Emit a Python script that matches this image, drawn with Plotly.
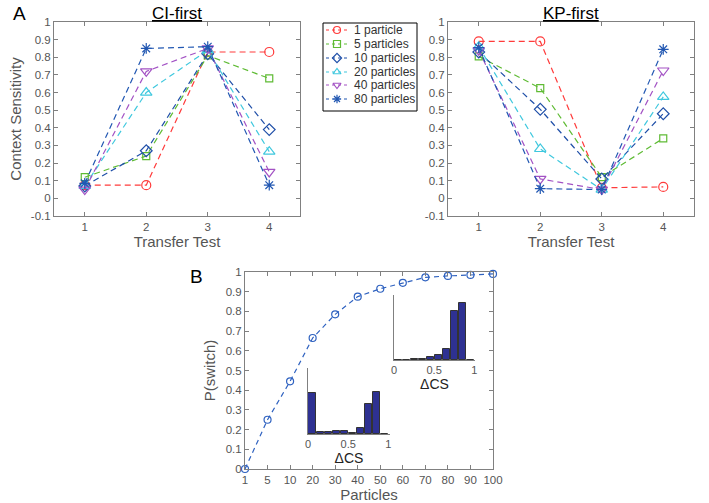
import plotly.graph_objects as go

# ---------------- data ----------------
transfer_tests = [1, 2, 3, 4]
series_names = ["1 particle", "5 particles", "10 particles", "20 particles", "40 particles", "80 particles"]

ci_first = {
    "1 particle":   [0.075, 0.075, 0.83, 0.83],
    "5 particles":  [0.12, 0.24, 0.81, 0.68],
    "10 particles": [0.07, 0.27, 0.82, 0.39],
    "20 particles": [0.07, 0.60, 0.84, 0.265],
    "40 particles": [0.05, 0.72, 0.85, 0.15],
    "80 particles": [0.085, 0.85, 0.86, 0.075],
}
kp_first = {
    "1 particle":   [0.89, 0.89, 0.06, 0.065],
    "5 particles":  [0.805, 0.625, 0.12, 0.34],
    "10 particles": [0.83, 0.505, 0.11, 0.48],
    "20 particles": [0.86, 0.28, 0.05, 0.575],
    "40 particles": [0.84, 0.11, 0.05, 0.725],
    "80 particles": [0.855, 0.055, 0.05, 0.845],
}

particle_labels = ["1", "5", "10", "20", "30", "40", "50", "60", "70", "80", "90", "100"]
p_switch = [0.0, 0.25, 0.445, 0.665, 0.785, 0.875, 0.915, 0.945, 0.973, 0.98, 0.985, 0.99]

bin_centers = [0.05, 0.15, 0.25, 0.35, 0.45, 0.55, 0.65, 0.75, 0.85, 0.95]
hist_upper = [0.003, 0.005, 0.01, 0.02, 0.04, 0.077, 0.165, 0.76, 0.87, 0.0]
hist_lower = [0.62, 0.03, 0.03, 0.045, 0.05, 0.02, 0.087, 0.46, 0.64, 0.0]

# ---------------- styles ----------------
colors = {
    "1 particle": "#ff3b3b",
    "5 particles": "#5fbb34",
    "10 particles": "#1f4fa8",
    "20 particles": "#3fc8de",
    "40 particles": "#a352c4",
    "80 particles": "#2157b2",
}
symbols = {
    "1 particle": "circle-open",
    "5 particles": "square-open",
    "10 particles": "diamond-open",
    "20 particles": "triangle-up-open",
    "40 particles": "triangle-down-open",
    "80 particles": "asterisk-open",
}
sizes = {
    "1 particle": 9, "5 particles": 7, "10 particles": 9,
    "20 particles": 10, "40 particles": 10, "80 particles": 9,
}

FONT = "Liberation Sans, Arial, sans-serif"
AX = "#808080"
TICKF = dict(family=FONT, size=11.5, color="#555555")
DASH = "6px,4px"

W, H = 709, 503
def xd(a, b):
    return [a / W, b / W]
def yd(top, bot):
    return [1 - bot / H, 1 - top / H]

fig = go.Figure()

for name in series_names:
    fig.add_trace(go.Scatter(
        x=transfer_tests, y=ci_first[name], mode="lines+markers", name=name,
        line=dict(color=colors[name], dash=DASH, width=1.2),
        marker=dict(symbol=symbols[name], size=sizes[name], color=colors[name],
                    line=dict(width=1.2, color=colors[name])),
        xaxis="x", yaxis="y", cliponaxis=False, showlegend=False))
for name in series_names:
    fig.add_trace(go.Scatter(
        x=transfer_tests, y=kp_first[name], mode="lines+markers", name=name,
        line=dict(color=colors[name], dash=DASH, width=1.2),
        marker=dict(symbol=symbols[name], size=sizes[name], color=colors[name],
                    line=dict(width=1.2, color=colors[name])),
        xaxis="x2", yaxis="y2", cliponaxis=False, showlegend=False))

fig.add_trace(go.Scatter(
    x=list(range(len(particle_labels))), y=p_switch, mode="lines+markers",
    line=dict(color="#2f62c0", dash="5px,4px", width=1.2),
    marker=dict(symbol="circle-open", size=7, color="#2f62c0", line=dict(width=1.2)),
    xaxis="x3", yaxis="y3", cliponaxis=False, showlegend=False))

fig.add_trace(go.Bar(x=bin_centers, y=hist_upper, width=0.088,
                     marker=dict(color="#2e3192", line=dict(color="#333333", width=1)),
                     xaxis="x4", yaxis="y4", showlegend=False))
fig.add_trace(go.Bar(x=bin_centers, y=hist_lower, width=0.088,
                     marker=dict(color="#2e3192", line=dict(color="#333333", width=1)),
                     xaxis="x5", yaxis="y5", showlegend=False))

# ---- hand-drawn legend (compact, like the original) on a hidden pixel-scaled axis ----
LEG_L, LEG_R, LEG_T, LEG_B = 323, 417, 23, 111
leg_rows = [30, 44, 58, 72, 85, 99]
annotations = []
for name, ry in zip(series_names, leg_rows):
    fig.add_trace(go.Scatter(x=[326, 348], y=[ry, ry], mode="lines",
                             line=dict(color=colors[name], dash="3px,3px", width=1.2),
                             xaxis="x6", yaxis="y6", showlegend=False, hoverinfo="skip"))
    fig.add_trace(go.Scatter(x=[337], y=[ry], mode="markers",
                             marker=dict(symbol=symbols[name], size=7, color=colors[name],
                                         line=dict(width=1.2, color=colors[name])),
                             xaxis="x6", yaxis="y6", showlegend=False, hoverinfo="skip"))
    annotations.append(dict(text=name, x=352, y=ry, xref="x6", yref="y6", xanchor="left",
                            yanchor="middle", showarrow=False,
                            font=dict(family=FONT, size=12, color="#333333")))

def main_axis(domain, **kw):
    d = dict(domain=domain, showline=True, linecolor=AX, linewidth=1, mirror="ticks",
             ticks="inside", ticklen=4, tickcolor=AX, showgrid=False, zeroline=False,
             tickfont=TICKF, automargin=False)
    d.update(kw)
    return d

yticks = [-0.1, 0, 0.1, 0.2, 0.3, 0.4, 0.5, 0.6, 0.7, 0.8, 0.9, 1]
ytext = ["-0.1", "0", "0.1", "0.2", "0.3", "0.4", "0.5", "0.6", "0.7", "0.8", "0.9", "1"]
title_font = dict(family=FONT, size=15, color="#555555")
inset_tick = dict(family=FONT, size=11, color="#555555")
inset_title = dict(family=FONT, size=14, color="#222222")

annotations += [
    dict(text="<u>CI-first</u>", x=(54 + 300) / 2 / W, y=1 - 2 / H, xref="paper", yref="paper",
         xanchor="center", yanchor="top", showarrow=False, font=dict(family=FONT, size=17, color="black")),
    dict(text="<u>KP-first</u>", x=(448 + 694) / 2 / W, y=1 - 2 / H, xref="paper", yref="paper",
         xanchor="center", yanchor="top", showarrow=False, font=dict(family=FONT, size=17, color="black")),
    dict(text="A", x=11 / W, y=1 - 1 / H, xref="paper", yref="paper", xanchor="left", yanchor="top",
         showarrow=False, font=dict(family=FONT, size=19, color="black")),
    dict(text="B", x=188 / W, y=1 - 264 / H, xref="paper", yref="paper", xanchor="left", yanchor="top",
         showarrow=False, font=dict(family=FONT, size=19, color="black")),
]

fig.update_layout(
    width=W, height=H, margin=dict(l=0, r=0, t=0, b=0, autoexpand=False),
    paper_bgcolor="white", plot_bgcolor="rgba(0,0,0,0)",
    font=dict(family=FONT),
    bargap=0,
    showlegend=False,
    xaxis=main_axis(xd(54, 300), range=[0.5, 4.5], tickvals=transfer_tests, anchor="y",
                    title=dict(text="Transfer Test", font=title_font, standoff=3)),
    yaxis=main_axis(yd(22, 216), range=[-0.1, 1], tickvals=yticks, ticktext=ytext, anchor="x",
                    title=dict(text="Context Sensitivity", font=title_font, standoff=5)),
    xaxis2=main_axis(xd(448, 694), range=[0.5, 4.5], tickvals=transfer_tests, anchor="y2",
                     title=dict(text="Transfer Test", font=title_font, standoff=3)),
    yaxis2=main_axis(yd(22, 216), range=[-0.1, 1], tickvals=yticks, ticktext=ytext, anchor="x2"),
    xaxis3=main_axis(xd(245, 493), range=[0, 11], tickvals=list(range(len(particle_labels))),
                     ticktext=particle_labels, anchor="y3",
                     title=dict(text="Particles", font=title_font, standoff=2)),
    yaxis3=main_axis(yd(272, 469), range=[0, 1], tickvals=yticks[1:], ticktext=ytext[1:], anchor="x3",
                     title=dict(text="P(switch)", font=title_font, standoff=6)),
    xaxis4=dict(domain=xd(394, 475), range=[0, 1.01], anchor="y4", showline=True, linecolor=AX,
                showgrid=False, zeroline=False, ticks="", tickvals=[0, 0.5, 1], ticktext=["0", "0.5", "1"],
                tickfont=inset_tick, automargin=False,
                title=dict(text="ΔCS", font=inset_title, standoff=1)),
    yaxis4=dict(domain=yd(295, 360), range=[0, 1], anchor="x4", showline=True, linecolor=AX,
                showgrid=False, zeroline=False, showticklabels=False, ticks="", automargin=False),
    xaxis5=dict(domain=xd(308, 390), range=[0, 1.02], anchor="y5", showline=True, linecolor=AX,
                showgrid=False, zeroline=False, ticks="", tickvals=[0, 0.5, 1], ticktext=["0", "0.5", "1"],
                tickfont=inset_tick, automargin=False,
                title=dict(text="ΔCS", font=inset_title, standoff=1)),
    yaxis5=dict(domain=yd(368, 434), range=[0, 1], anchor="x5", showline=True, linecolor=AX,
                showgrid=False, zeroline=False, showticklabels=False, ticks="", automargin=False),
    xaxis6=dict(domain=xd(LEG_L, LEG_R), range=[LEG_L, LEG_R], anchor="y6", visible=False,
                fixedrange=True),
    yaxis6=dict(domain=yd(LEG_T, LEG_B), range=[LEG_B, LEG_T], anchor="x6", visible=False,
                fixedrange=True),
    shapes=[dict(type="rect", xref="paper", yref="paper", x0=LEG_L / W, x1=LEG_R / W,
                 y0=1 - LEG_B / H, y1=1 - LEG_T / H, line=dict(color="black", width=1),
                 fillcolor="rgba(0,0,0,0)", layer="above")],
    annotations=annotations,
)

fig.write_html("out.html", config={"displayModeBar": False},
               post_script="document.body.style.margin='0px';")
